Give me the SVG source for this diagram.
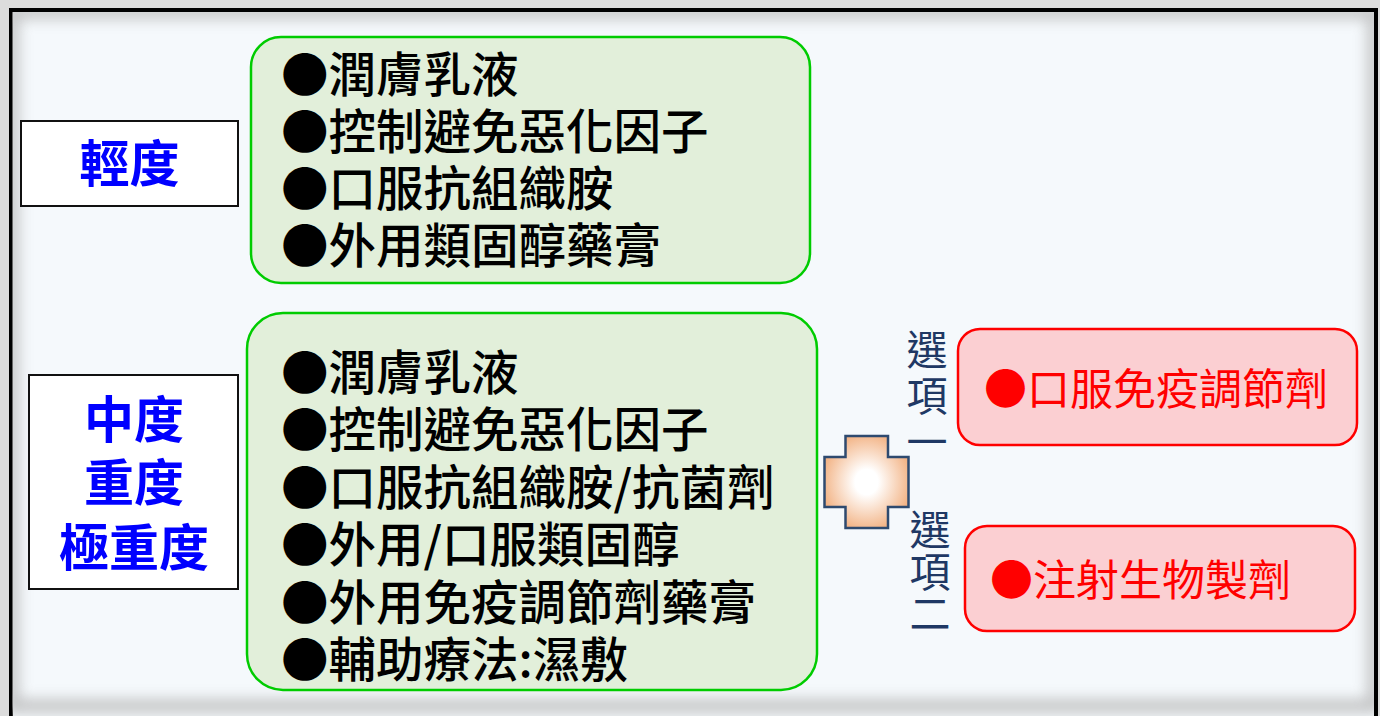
<svg xmlns="http://www.w3.org/2000/svg" width="1380" height="716" viewBox="0 0 1380 716">
<defs>
<style>
.lvl{fill:#ffffff;stroke:#111111;stroke-width:2}
.lvlt{font-family:"Noto Sans CJK TC","Noto Sans CJK SC",sans-serif;font-weight:bold;font-size:50px;fill:#0000ff;text-anchor:middle}
.grn{fill:#e2efda;stroke:#00cc00;stroke-width:2.5}
.gt{font-family:"Noto Sans CJK TC","Noto Sans CJK SC",sans-serif;font-weight:500;font-size:47.5px;fill:#000000}
.red{fill:#fbcfd2;stroke:#ff0000;stroke-width:2.5}
.rt{font-family:"Noto Sans CJK TC","Noto Sans CJK SC",sans-serif;font-size:43px;fill:#ff0000}
.opt{font-family:"Noto Sans CJK TC","Noto Sans CJK SC",sans-serif;font-size:41px;fill:#1f3864;writing-mode:vertical-rl;text-orientation:upright}
</style>
<radialGradient id="crossGrad" cx="0.5" cy="0.5" r="0.55">
<stop offset="0.25" stop-color="#ffffff"/>
<stop offset="1" stop-color="#f2b080"/>
</radialGradient>
<clipPath id="inner"><rect x="12" y="12" width="1362" height="720"/></clipPath>
<filter id="blur" x="-0.1" y="-0.1" width="1.2" height="1.2"><feGaussianBlur stdDeviation="7"/></filter>
</defs>
<rect x="0" y="0" width="1380" height="716" fill="#dcdcdc"/>
<rect x="11" y="10" width="1365" height="730" fill="#f5f9fc" stroke="#000000" stroke-width="4"/>
<g clip-path="url(#inner)">
<rect x="12" y="12" width="1362" height="694" fill="none" stroke="#b8b8b8" stroke-width="14" filter="url(#blur)" opacity="0.8"/>
</g>

<g id="node-mild">
<rect class="lvl" x="21" y="121" width="217" height="85"/>
<text class="lvlt" x="129.5" y="182">輕度</text>
</g>

<g id="node-severe">
<rect class="lvl" x="29" y="375" width="209" height="214"/>
<text class="lvlt"><tspan x="134" y="438">中度</tspan><tspan x="134" y="501">重度</tspan><tspan x="134" y="566">極重度</tspan></text>
</g>

<g id="node-mild-treat">
<rect class="grn" x="251" y="37" width="559" height="246" rx="30"/>
<text class="gt"><tspan x="281" y="92">●潤膚乳液</tspan><tspan x="281" y="149">●控制避免惡化因子</tspan><tspan x="281" y="206">●口服抗組織胺</tspan><tspan x="281" y="263">●外用類固醇藥膏</tspan></text>
</g>

<g id="node-severe-treat">
<rect class="grn" x="247" y="313" width="570" height="377" rx="36"/>
<text class="gt"><tspan x="281" y="390">●潤膚乳液</tspan><tspan x="281" y="447">●控制避免惡化因子</tspan><tspan x="281" y="505">●口服抗組織胺/抗菌劑</tspan><tspan x="281" y="562">●外用/口服類固醇</tspan><tspan x="281" y="620">●外用免疫調節劑藥膏</tspan><tspan x="281" y="677">●輔助療法:濕敷</tspan></text>
</g>

<g id="node-plus">
<path d="M845.5,436 H888 V457 H908.5 V507 H888 V528 H845.5 V507 H824.5 V457 H845.5 Z" fill="url(#crossGrad)" stroke="#2e4a6f" stroke-width="2.5"/>
</g>

<g id="node-option1-label">
<text class="opt" x="927" y="329" letter-spacing="5">選項一</text>
</g>

<g id="node-option2-label">
<text class="opt" x="930" y="509" letter-spacing="1">選項二</text>
</g>

<g id="node-option1">
<rect class="red" x="958" y="329" width="399" height="116" rx="22"/>
<text class="rt" x="984" y="405">●口服免疫調節劑</text>
</g>

<g id="node-option2">
<rect class="red" x="965" y="526" width="390" height="105" rx="22"/>
<text class="rt" x="990" y="596">●注射生物製劑</text>
</g>

<g id="connectors"></g>
</svg>
